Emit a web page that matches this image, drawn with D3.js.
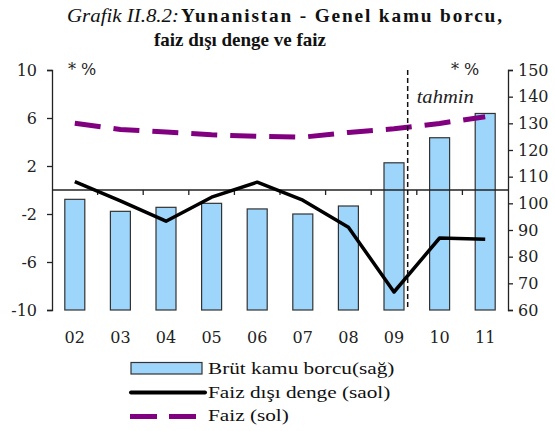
<!DOCTYPE html>
<html>
<head>
<meta charset="utf-8">
<script src="https://cdn.jsdelivr.net/npm/d3@7"></script>
<style>
    body { margin: 0; background: #fff; }
    svg { display: block; font-family: "Liberation Serif", "DejaVu Serif", serif; }
    .axis text { font-family: "DejaVu Serif", serif; font-size: 16px; fill: #222; }
    .axis path, .axis line { stroke: #222; stroke-width: 1.3; }
</style>
</head>
<body>
<div id="chart"></div>
<script>
// data
var years = ["02", "03", "04", "05", "06", "07", "08", "09", "10", "11"];
var grossDebt = [101.5, 97, 98.5, 100, 97.9, 96, 99, 115.2, 124.6, 133.7];       // right axis
var primaryBalance = [0.7, -0.9, -2.6, -0.6, 0.65, -0.85, -3.1, -8.5, -4.0, -4.1]; // left axis
var interest = [5.56, 5.05, 4.83, 4.6, 4.47, 4.4, 4.8, 5.1, 5.55, 6.1];            // left axis
var leftTicks = [10, 6, 2, -2, -6, -10];
var rightTicks = [150, 140, 130, 120, 110, 100, 90, 80, 70, 60];
var lastActual = "09";

var width = 555, height = 431;
var margin = {top: 70, right: 47, bottom: 121, left: 52};

var svg = d3.select("#chart").append("svg")
    .attr("width", width)
    .attr("height", height);

var xScale = d3.scaleBand().domain(years)
    .range([margin.left, width - margin.right]);
var yLeft = d3.scaleLinear().domain([-10, 10])
    .range([height - margin.bottom, margin.top]);
var yRight = d3.scaleLinear().domain([60, 150])
    .range([height - margin.bottom, margin.top]);

function cx(d) { return xScale(d) + xScale.bandwidth() / 2; }

// title (the source image is stretched horizontally, so text is fitted to its width)
svg.append("text").attr("x", 67).attr("y", 22).attr("font-size", 19).attr("fill", "#111")
    .attr("font-style", "italic")
    .attr("textLength", 112).attr("lengthAdjust", "spacingAndGlyphs")
    .text("Grafik II.8.2:");
var titleBold = svg.append("text").attr("x", 0).attr("y", 0).attr("font-size", 19).attr("fill", "#111")
    .attr("font-weight", "bold")
    .style("letter-spacing", "1.8px")
    .text("Yunanistan - Genel kamu borcu,");
// fit the spaced-out bold part to its width in the source
var bw = titleBold.node().getBBox().width;
titleBold.attr("transform", "translate(181,22) scale(" + (323 / bw) + ",1)");
svg.append("text").attr("x", 154).attr("y", 46).attr("font-size", 19)
    .attr("font-weight", "bold").attr("fill", "#111")
    .attr("textLength", 172).attr("lengthAdjust", "spacingAndGlyphs")
    .text("faiz dışı denge ve faiz");

// bars
var barW = 20;
svg.append("g").attr("class", "bars").selectAll("rect")
    .data(years)
    .enter().append("rect")
    .attr("x", function (d) { return cx(d) - barW / 2; })
    .attr("y", function (d, i) { return yRight(grossDebt[i]); })
    .attr("width", barW)
    .attr("height", function (d, i) { return yRight(60) - yRight(grossDebt[i]); })
    .attr("fill", "#9dd5fb")
    .attr("stroke", "#333")
    .attr("stroke-width", 1.2);

// axes
svg.append("g").attr("class", "axis y-left")
    .attr("transform", "translate(" + margin.left + ",0)")
    .call(d3.axisLeft(yLeft).tickValues(leftTicks).tickFormat(String)
        .tickSizeInner(5).tickSizeOuter(5).tickPadding(10));
svg.append("g").attr("class", "axis y-right")
    .attr("transform", "translate(" + (width - margin.right) + ",0)")
    .call(d3.axisRight(yRight).tickValues(rightTicks).tickFormat(String)
        .tickSizeInner(5).tickSizeOuter(5).tickPadding(5));

// zero line with small ticks between categories
var zeroY = yLeft(0);
svg.append("line")
    .attr("x1", margin.left).attr("x2", width - margin.right)
    .attr("y1", zeroY).attr("y2", zeroY)
    .attr("stroke", "#222").attr("stroke-width", 1.3);
svg.append("g").selectAll("line")
    .data(years.slice(1))
    .enter().append("line")
    .attr("x1", function (d) { return xScale(d); })
    .attr("x2", function (d) { return xScale(d); })
    .attr("y1", zeroY).attr("y2", zeroY + 5)
    .attr("stroke", "#222").attr("stroke-width", 1.3);

// x labels
svg.append("g").attr("class", "axis x-labels").selectAll("text")
    .data(years)
    .enter().append("text")
    .attr("x", cx)
    .attr("y", height - margin.bottom + 33)
    .attr("text-anchor", "middle")
    .text(function (d) { return d; });

// lines
var line = d3.line()
    .x(function (d) { return cx(d.year); })
    .y(function (d) { return yLeft(d.v); });

svg.append("path")
    .datum(years.map(function (y, i) { return {year: y, v: interest[i]}; }))
    .attr("d", line)
    .attr("fill", "none")
    .attr("stroke", "#800080")
    .attr("stroke-width", 5)
    .attr("stroke-dasharray", "26,13");

svg.append("path")
    .datum(years.map(function (y, i) { return {year: y, v: primaryBalance[i]}; }))
    .attr("d", line)
    .attr("fill", "none")
    .attr("stroke", "#000")
    .attr("stroke-width", 3.5)
    .attr("stroke-linejoin", "round");

// forecast divider, just right of the last actual year's bar
var fx = xScale(lastActual) + xScale.bandwidth() * 0.8;
svg.append("line")
    .attr("x1", fx).attr("x2", fx)
    .attr("y1", margin.top).attr("y2", height - margin.bottom)
    .attr("stroke", "#111").attr("stroke-width", 1.5)
    .attr("stroke-dasharray", "5,3");
svg.append("text").attr("x", fx + 9).attr("y", 103)
    .attr("font-size", 18).attr("font-style", "italic").attr("fill", "#222")
    .attr("textLength", 57).attr("lengthAdjust", "spacingAndGlyphs")
    .text("tahmin");

// unit labels
svg.append("text").attr("x", 68).attr("y", 75).attr("font-size", 16)
    .attr("font-family", "DejaVu Serif, serif").attr("fill", "#222").text("* %");
svg.append("text").attr("x", 451).attr("y", 75).attr("font-size", 16)
    .attr("font-family", "DejaVu Serif, serif").attr("fill", "#222").text("* %");

// legend
var lg = svg.append("g").attr("class", "legend");
lg.append("rect").attr("x", 131).attr("y", 362.5).attr("width", 71).attr("height", 11.5)
    .attr("fill", "#9dd5fb").attr("stroke", "#333").attr("stroke-width", 1.2);
lg.append("line").attr("x1", 131).attr("x2", 205).attr("y1", 392.5).attr("y2", 392.5)
    .attr("stroke", "#000").attr("stroke-width", 4).attr("stroke-linecap", "round");
lg.append("line").attr("x1", 130).attr("x2", 197).attr("y1", 416.5).attr("y2", 416.5)
    .attr("stroke", "#800080").attr("stroke-width", 5).attr("stroke-dasharray", "27,12");
var legendText = ["Brüt kamu borcu(sağ)", "Faiz dışı denge (saol)", "Faiz (sol)"];
lg.selectAll("text").data(legendText).enter().append("text")
    .attr("transform", function (d, i) {
        return "translate(208," + (374 + i * 23.5) + ") scale(1.25,1)";
    })
    .attr("font-size", 17).attr("fill", "#111")
    .text(function (d) { return d; });
</script>
</body>
</html>
